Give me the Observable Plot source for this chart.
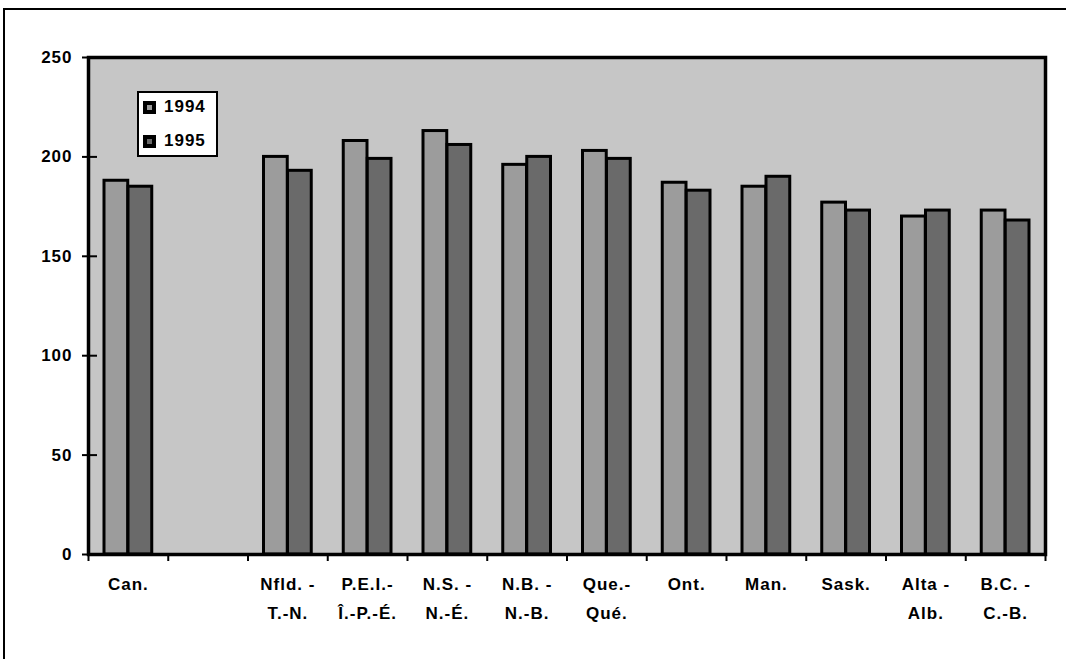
<!DOCTYPE html>
<html>
<head>
<meta charset="utf-8">
<script src="https://cdn.jsdelivr.net/npm/d3@7"></script>
<script src="https://cdn.jsdelivr.net/npm/@observablehq/plot@0.6"></script>
<style>
  html, body { margin: 0; padding: 0; background: #fff; }
  #wrap { position: relative; width: 1066px; height: 659px; overflow: hidden; }
  #outer { position: absolute; left: 3px; top: 8px; width: 1100px; height: 700px;
           border-left: 2px solid #000; border-top: 2px solid #000; pointer-events: none; }
  #wrap svg text { letter-spacing: 1px; font-weight: bold; }
  #legend { position: absolute; left: 137px; top: 91px; width: 81px; height: 66px; box-sizing: border-box;
            border: 2px solid #000; background: #fff; font-family: "Liberation Sans", Arial, sans-serif;
            font-size: 17px; letter-spacing: 1px; font-weight: bold; }
  .row { position: absolute; left: 4px; display: flex; align-items: center; height: 20px; }
  .sw { width: 13px; height: 13px; background: #000; position: relative; margin-right: 8px; }
  .sw i { position: absolute; left: 4px; top: 4px; width: 5px; height: 5px; }
</style>
</head>
<body>
<div id="wrap">
  <div id="chart"></div>
  <div id="outer"></div>
  <div id="legend"></div>
</div>
<script>
const categories = ["Can.", "", "Nfld. -\nT.-N.", "P.E.I.-\nÎ.-P.-É.", "N.S. -\nN.-É.", "N.B. -\nN.-B.",
                    "Que.-\nQué.", "Ont.", "Man.", "Sask.", "Alta -\nAlb.", "B.C. -\nC.-B."];
const years = ["1994", "1995"];
const values1994 = [188, null, 200, 208, 213, 196, 203, 187, 185, 177, 170, 173];
const values1995 = [185, null, 193, 199, 206, 200, 199, 183, 190, 173, 173, 168];
const yTicks = [0, 50, 100, 150, 200, 250];

const colors = {"1994": "#9c9c9c", "1995": "#6a6a6a"};
const bg = "#c6c6c6";

const rows = (vals) => categories.map((c, i) => ({category: c, value: vals[i]})).filter(d => d.value != null);
const rows1994 = rows(values1994);
const rows1995 = rows(values1995);

const W = 1066, H = 659, mL = 88, mR = 21, mT = 57, mB = 105;
const bw = (W - mL - mR) / categories.length;

const chart = Plot.plot({
  width: W, height: H,
  marginLeft: mL, marginRight: mR, marginTop: mT, marginBottom: mB,
  x: {domain: categories, padding: 0, round: false, axis: null, label: null},
  y: {domain: [0, 250], axis: null, label: null},
  style: {fontFamily: "'Liberation Sans', Arial, sans-serif", fontSize: "17px", color: "#000", background: "#fff"},
  marks: [
    Plot.frame({fill: bg, stroke: null}),
    Plot.barY(rows1994, {x: "category", y: "value", fill: colors["1994"], stroke: "#000", strokeWidth: 3, insetLeft: 16, insetRight: 40}),
    Plot.barY(rows1995, {x: "category", y: "value", fill: colors["1995"], stroke: "#000", strokeWidth: 3, insetLeft: 40, insetRight: 16}),
    Plot.frame({stroke: "#000", strokeWidth: 3.5}),
    Plot.axisY({ticks: yTicks, tickSize: 15, dx: 9, tickFormat: () => "", strokeWidth: 2, label: null}),
    Plot.axisY({ticks: yTicks, tickSize: 0, tickPadding: 16, fontSize: 17, label: null}),
    Plot.axisX({tickSize: 7, dx: -bw / 2, tickFormat: () => "", strokeWidth: 2, label: null}),
    Plot.axisX({ticks: [categories[categories.length - 1]], tickSize: 7, dx: bw / 2, tickFormat: () => "", strokeWidth: 2, label: null}),
    Plot.axisX({tickSize: 0, tickPadding: 15, lineHeight: 1.7, fontSize: 17, label: null})
  ]
});
document.getElementById("chart").appendChild(chart);

const legend = document.getElementById("legend");
years.forEach((y, i) => {
  const row = document.createElement("div");
  row.className = "row";
  row.style.top = (4 + i * 34) + "px";
  row.innerHTML = `<span class="sw"><i style="background:${colors[y]}"></i></span><span>${y}</span>`;
  legend.appendChild(row);
});
</script>
</body>
</html>
